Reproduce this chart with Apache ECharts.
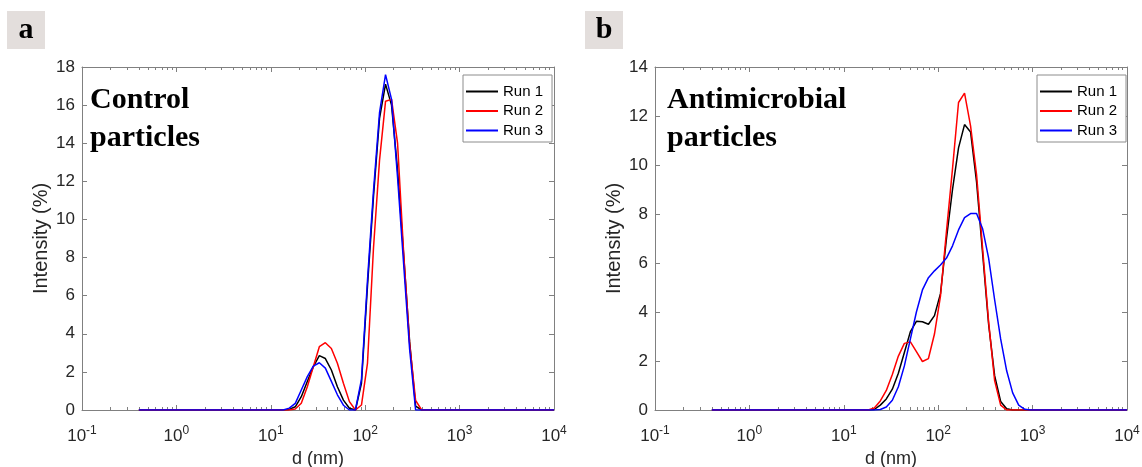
<!DOCTYPE html>
<html><head><meta charset="utf-8">
<script src="https://cdn.jsdelivr.net/npm/echarts@6/dist/echarts.min.js"></script>
<style>html,body{margin:0;padding:0;background:#fff}#c{width:1142px;height:467px}</style>
</head><body><div id="c"></div>
<script>
// Particle size bins (nm)
const sizes = [0.4,0.4632,0.5365,0.6213,0.7195,0.8332,0.9649,1.117,1.294,1.499,
  1.736,2.01,2.328,2.696,3.122,3.615,4.187,4.849,5.615,6.503,
  7.531,8.721,10.1,11.7,13.54,15.69,18.17,21.04,24.36,28.21,
  32.67,37.84,43.82,50.75,58.77,68.06,78.82,91.28,105.7,122.4,
  141.8,164.2,190.1,220.2,255,295.3,342,396.1,458.7,531.2,
  615.1,712.4,825,955.4,1106,1281,1484,1718,1990,2305,
  2669,3091,3580,4145,4801,5560,6439,7456,8635,10000];

// Panel a: Control particles
const controlRun1 = [0,0,0,0,0,0,0,0,0,0, 0,0,0,0,0,0,0,0,0,0,
  0,0,0,0,0,0.03,0.17,0.7,1.5,2.27, 2.85,2.7,2.1,1.22,0.52,0.09,0,1.4,6.5,11.2,
  15.3,17.1,16.0,12.6,8.2,3.6,0.2,0,0,0, 0,0,0,0,0,0,0,0,0,0, 0,0,0,0,0,0,0,0,0,0];
const controlRun2 = [0,0,0,0,0,0,0,0,0,0, 0,0,0,0,0,0,0,0,0,0,
  0,0,0,0,0,0,0.05,0.35,1.22,2.27, 3.32,3.53,3.23,2.45,1.4,0.44,0,0.26,2.45,8.5,
  13.1,16.2,16.3,14.0,8.3,3.5,0.5,0,0,0, 0,0,0,0,0,0,0,0,0,0, 0,0,0,0,0,0,0,0,0,0];
const controlRun3 = [0,0,0,0,0,0,0,0,0,0, 0,0,0,0,0,0,0,0,0,0,
  0,0,0,0,0,0.1,0.35,1.05,1.75,2.3, 2.48,2.2,1.5,0.8,0.25,0,0,1.6,6.8,11.5,
  15.6,17.6,16.3,12.2,7.7,3.2,0,0,0,0, 0,0,0,0,0,0,0,0,0,0, 0,0,0,0,0,0,0,0,0,0];

// Panel b: Antimicrobial particles
const antiRun1 = [0,0,0,0,0,0,0,0,0,0, 0,0,0,0,0,0,0,0,0,0,
  0,0,0,0,0,0,0,0.02,0.2,0.45, 0.85,1.5,2.35,3.2,3.62,3.6,3.5,3.85,4.75,7.0,
  9.0,10.7,11.65,11.35,9.3,6.4,3.5,1.4,0.35,0.05, 0,0,0,0,0,0,0,0,0,0, 0,0,0,0,0,0,0,0,0,0];
const antiRun2 = [0,0,0,0,0,0,0,0,0,0, 0,0,0,0,0,0,0,0,0,0,
  0,0,0,0,0,0,0,0.08,0.37,0.8, 1.45,2.2,2.72,2.78,2.38,1.98,2.1,3.1,4.65,7.3,
  9.85,12.55,12.93,11.6,9.6,6.6,3.6,1.2,0.2,0, 0,0,0,0,0,0,0,0,0,0, 0,0,0,0,0,0,0,0,0,0];
const antiRun3 = [0,0,0,0,0,0,0,0,0,0, 0,0,0,0,0,0,0,0,0,0,
  0,0,0,0,0,0,0,0,0.02,0.12, 0.4,0.95,1.8,2.9,4.0,4.9,5.4,5.68,5.92,6.2,
  6.7,7.35,7.85,8.02,8.02,7.4,6.2,4.5,2.9,1.6, 0.7,0.2,0.03,0,0,0,0,0,0,0, 0,0,0,0,0,0,0,0,0,0];

const runNames = ['Run 1','Run 2','Run 3'];
const runColors = ['#000000','#ff0000','#0000ff'];
const xTicks = [0.1,1,10,100,1000,10000];
const xMinorTicks = [0.2,0.3,0.4,0.5,0.6,0.7,0.8,0.9, 2,3,4,5,6,7,8,9,
  20,30,40,50,60,70,80,90, 200,300,400,500,600,700,800,900,
  2000,3000,4000,5000,6000,7000,8000,9000];
const yTicksA = [0,2,4,6,8,10,12,14,16,18];
const yTicksB = [0,2,4,6,8,10,12,14];
const panelTitles = ['Control\nparticles','Antimicrobial\nparticles'];
const panelLetters = ['a','b'];

const SANS = 'Liberation Sans, Arial, sans-serif';
const SERIF = 'Liberation Serif, Times New Roman, serif';
const AXC = '#808080';
const TXT = '#262626';
const grids = [{left:82, top:67, width:472, height:343, outerBoundsMode:'none', containLabel:false},
               {left:655, top:67, width:472, height:343, outerBoundsMode:'none', containLabel:false}];

const xAxes = [], yAxes = [], series = [];
grids.forEach((g, gi) => {
  const base = xAxes.length;
  xAxes.push({gridIndex: gi, type:'log', logBase:10, min:xTicks[0], max:xTicks[xTicks.length-1], position:'bottom',
    name:'d (nm)', nameLocation:'middle', nameGap:38,
    nameTextStyle:{fontFamily:SANS, fontSize:18, color:TXT},
    axisLine:{show:true, onZero:false, lineStyle:{color:AXC, width:1}},
    axisTick:{show:true, inside:true, length:5, lineStyle:{color:AXC}},
    splitLine:{show:false}, minorTick:{show:false},
    axisLabel:{show:true, margin:15,
      formatter: v => '{b|10}{s|' + Math.round(Math.log10(v)) + '}',
      rich:{ b:{fontFamily:SANS, fontSize:17, color:TXT, verticalAlign:'bottom'},
             s:{fontFamily:SANS, fontSize:12, color:TXT, verticalAlign:'bottom', padding:[0,0,8,0]} } }
  });
  xAxes.push({gridIndex: gi, type:'log', logBase:10, min:xTicks[0], max:xTicks[xTicks.length-1], position:'top',
    axisLine:{show:true, onZero:false, lineStyle:{color:AXC, width:1}},
    axisTick:{show:true, inside:true, length:5, lineStyle:{color:AXC}},
    axisLabel:{show:false}, splitLine:{show:false}});
  ['bottom','top'].forEach(pos => {
    xAxes.push({gridIndex: gi, type:'value', min:Math.log10(xTicks[0]), max:Math.log10(xTicks[xTicks.length-1]), position:pos,
      axisLine:{show:false, onZero:false},
      axisTick:{show:true, inside:true, length:3, lineStyle:{color:AXC}, customValues: xMinorTicks.map(v => Math.log10(v))},
      axisLabel:{show:false}, splitLine:{show:false}});
  });
  const yt = gi === 0 ? yTicksA : yTicksB;
  yAxes.push({gridIndex: gi, type:'value', min:yt[0], max:yt[yt.length-1], interval:yt[1]-yt[0], position:'left',
    name:'Intensity (%)', nameLocation:'middle', nameGap:31, nameRotate:90,
    nameTextStyle:{fontFamily:SANS, fontSize:20, color:TXT},
    axisLine:{show:true, onZero:false, lineStyle:{color:AXC, width:1}},
    axisTick:{show:true, inside:true, length:5, lineStyle:{color:AXC}},
    axisLabel:{show:true, margin:7, fontFamily:SANS, fontSize:17, color:TXT},
    splitLine:{show:false}});
  yAxes.push({gridIndex: gi, type:'value', min:yt[0], max:yt[yt.length-1], interval:yt[1]-yt[0], position:'right',
    axisLine:{show:true, onZero:false, lineStyle:{color:AXC, width:1}},
    axisTick:{show:true, inside:true, length:5, lineStyle:{color:AXC}},
    axisLabel:{show:false}, splitLine:{show:false}});
  const runs = gi === 0 ? [controlRun1, controlRun2, controlRun3] : [antiRun1, antiRun2, antiRun3];
  runs.forEach((vals, ri) => {
    series.push({type:'line', name: runNames[ri], xAxisIndex: base, yAxisIndex: gi*2,
      data: sizes.map((d, i) => [d, vals[i]]),
      showSymbol:false, symbol:'none', smooth:false, animation:false,
      lineStyle:{color: runColors[ri], width:1.5}, itemStyle:{color: runColors[ri]}, z: 2 + ri});
  });
});

const legends = [463, 1037].map(l => ({
  left:l, top:75, orient:'vertical', data: runNames, icon:'rect', itemWidth:32, itemHeight:2, itemGap:4.5,
  padding:[9,9,4,3], borderColor:'#8c8c8c', borderWidth:1, backgroundColor:'#ffffff', borderRadius:0,
  selectedMode:false,
  textStyle:{fontFamily:SANS, fontSize:15, color:'#000'}
}));

const graphic = [];
[[7,11],[585,11]].forEach((p, i) => {
  graphic.push({type:'rect', left:p[0], top:p[1], shape:{width:38, height:38}, style:{fill:'#e3dedc'}, silent:true});
  graphic.push({type:'text', x:p[0]+19, y:p[1]+19, style:{text: panelLetters[i], fontFamily:SERIF, fontWeight:'bold', fontSize:30,
    fill:'#000', align:'center', verticalAlign:'middle'}, silent:true});
});
[[90,81],[667,81]].forEach((p, i) => {
  graphic.push({type:'text', x:p[0], y:p[1], style:{text: panelTitles[i], fontFamily:SERIF, fontWeight:'bold', fontSize:30,
    lineHeight:38, fill:'#000', align:'left', verticalAlign:'top'}, silent:true, z: 10});
});

const chart = echarts.init(document.getElementById('c'), null, {renderer:'canvas'});
chart.setOption({
  animation:false, backgroundColor:'#ffffff',
  grid: grids, xAxis: xAxes, yAxis: yAxes, series: series, legend: legends, graphic: graphic
});
</script></body></html>
